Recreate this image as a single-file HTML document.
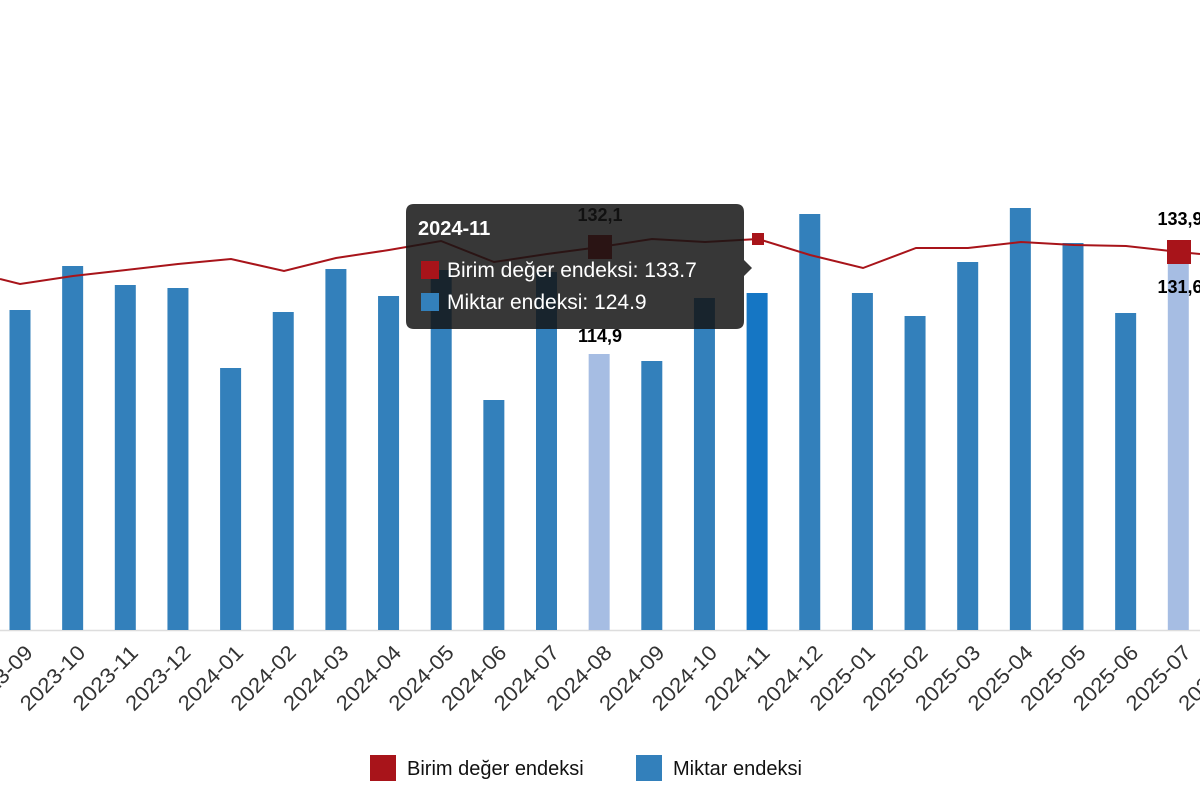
<!DOCTYPE html>
<html><head><meta charset="utf-8"><style>
body{margin:0;width:1200px;height:800px;background:#fff;overflow:hidden;font-family:"Liberation Sans",sans-serif;}
</style></head><body>
<svg width="1200" height="800" viewBox="0 0 1200 800" xmlns="http://www.w3.org/2000/svg" font-family="Liberation Sans, sans-serif">
<line x1="0" y1="630.5" x2="1200" y2="630.5" stroke="#ddd" stroke-width="1.5"/>
<g id="bars"></g>
<polyline fill="none" stroke="#a8141a" stroke-width="2" points="0,279 20,284 73,276 126,270 178,264 231,259 284,271 336,258 389,250 441,241 494,262 547,254 600,247 652,239 705,242 758,239 810,255 863,268 916,248 968,248 1021,242 1074,245 1126,246 1179,252 1200,254"/>
<rect x="588" y="235" width="24" height="24" fill="#a8141a"/>
<rect x="752" y="233" width="12" height="12" fill="#a8141a"/>
<rect x="1167" y="240" width="24" height="24" fill="#a8141a"/>
<g font-size="18" font-weight="bold" fill="#000" text-anchor="middle">
<text x="600" y="221">132,1</text><text x="600" y="342">114,9</text>
<text x="1180" y="225">133,9</text><text x="1180" y="293">131,6</text>
</g>
<g id="labels" font-size="21" fill="#333"></g>
<path d="M414,204 H736 Q744,204 744,212 V260 L752,268 L744,276 V321 Q744,329 736,329 H414 Q406,329 406,321 V212 Q406,204 414,204 Z" fill="rgba(20,20,20,0.85)"/>
<text x="418" y="235" font-size="20" font-weight="bold" fill="#fff">2024-11</text>
<rect x="421" y="261" width="18" height="18" fill="#a8141a"/>
<text x="447" y="277" font-size="21" fill="#fff">Birim değer endeksi: 133.7</text>
<rect x="421" y="293" width="18" height="18" fill="#3380bb"/>
<text x="447" y="309" font-size="21" fill="#fff">Miktar endeksi: 124.9</text>
<rect x="370" y="755" width="26" height="26" fill="#a8141a"/>
<text x="407" y="775" font-size="20" fill="#111">Birim değer endeksi</text>
<rect x="636" y="755" width="26" height="26" fill="#3380bb"/>
<text x="673" y="775" font-size="20" fill="#111">Miktar endeksi</text>
</svg>
<script>
var labs=["2023-09","2023-10","2023-11","2023-12","2024-01","2024-02","2024-03","2024-04","2024-05","2024-06","2024-07","2024-08","2024-09","2024-10","2024-11","2024-12","2025-01","2025-02","2025-03","2025-04","2025-05","2025-06","2025-07","2025-08"];
var tops=[310,266,285,288,368,312,269,296,270,400,272,354,361,298,293,214,293,316,262,208,243,313,262,null];
var ns="http://www.w3.org/2000/svg",b=document.getElementById("bars"),l=document.getElementById("labels");
for(var i=0;i<labs.length;i++){var cx=20+i*52.65;
if(tops[i]!==null){var r=document.createElementNS(ns,"rect");r.setAttribute("x",cx-10.5);r.setAttribute("y",tops[i]);r.setAttribute("width",21);r.setAttribute("height",630-tops[i]);
r.setAttribute("fill",i==11||i==22?"#a6bde3":(i==14?"#1576c4":"#3380bb"));b.appendChild(r);}
var t=document.createElementNS(ns,"text");t.setAttribute("text-anchor","end");t.setAttribute("textLength","82");t.setAttribute("lengthAdjust","spacingAndGlyphs");t.setAttribute("transform","translate("+(cx+14)+",654) rotate(-45)");t.textContent=labs[i];l.appendChild(t);}
</script>
</body></html>
